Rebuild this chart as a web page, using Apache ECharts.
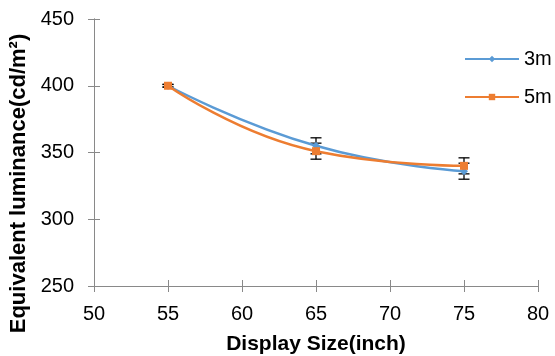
<!DOCTYPE html>
<html><head><meta charset="utf-8">
<script src="https://cdn.jsdelivr.net/npm/echarts@6/dist/echarts.min.js"></script>
<style>html,body{margin:0;padding:0;background:#fff}#c{width:555px;height:356px}</style>
</head><body><div id="c"></div>
<script>
const sizes = [55, 65, 75];
const lum3m = [400, 355, 336];
const lum5m = [400, 351, 340];
const err3m = [1, 6, 6];
const err5m = [1, 6, 6];
const xTicks = [50, 55, 60, 65, 70, 75, 80];
const yTicks = [250, 300, 350, 400, 450];

const blue = '#5B9BD5', orange = '#ED7D31';
const font = 'Liberation Sans, Arial, sans-serif';

function errData(vals, errs) {
  return sizes.map((s, i) => [s, vals[i] - errs[i], vals[i] + errs[i]]);
}
function errRender(params, api) {
  const x = api.value(0);
  const lo = api.coord([x, api.value(1)]);
  const hi = api.coord([x, api.value(2)]);
  const w = 5.5;
  const st = { stroke: '#000', lineWidth: 1.3 };
  return { type: 'group', children: [
    { type: 'line', shape: { x1: lo[0], y1: lo[1], x2: hi[0], y2: hi[1] }, style: st },
    { type: 'line', shape: { x1: lo[0] - w, y1: lo[1], x2: lo[0] + w, y2: lo[1] }, style: st },
    { type: 'line', shape: { x1: hi[0] - w, y1: hi[1], x2: hi[0] + w, y2: hi[1] }, style: st }
  ]};
}
const axisLine = { lineStyle: { color: '#898989', width: 1 } };
const chart = echarts.init(document.getElementById('c'));
chart.setOption({
  animation: false,
  textStyle: { fontFamily: font },
  grid: { left: 94, right: 17, top: 19, bottom: 70, outerBoundsMode: 'none', containLabel: false },
  legend: {
    orient: 'vertical', left: 459, top: 44, itemGap: 18, itemWidth: 54, itemHeight: 8,
    textStyle: { fontSize: 20, color: '#000', fontFamily: font },
    data: ['3m', '5m']
  },
  xAxis: [{
    type: 'value', min: xTicks[0], max: xTicks[xTicks.length - 1], interval: 5,
    name: 'Display Size(inch)', nameLocation: 'middle', nameGap: 48,
    nameTextStyle: { fontSize: 21, fontWeight: 'bold', color: '#000', fontFamily: font },
    axisLine: axisLine, axisTick: { show: true, length: 6, lineStyle: { color: '#898989' } },
    axisLabel: { fontSize: 20, color: '#000', margin: 18 }, splitLine: { show: false }
  }, {
    type: 'value', min: xTicks[0], max: xTicks[xTicks.length - 1], interval: 5, position: 'bottom',
    axisLine: axisLine, axisTick: { show: true, inside: true, length: 6, lineStyle: { color: '#898989' } },
    axisLabel: { show: false }, splitLine: { show: false }
  }],
  yAxis: [{
    type: 'value', min: yTicks[0], max: yTicks[yTicks.length - 1], interval: 50,
    name: 'Equivalent luminance(cd/m²)', nameLocation: 'middle', nameGap: 62,
    nameTextStyle: { fontSize: 22, fontWeight: 'bold', color: '#000', fontFamily: font, padding: [0, 62, 0, 0] },
    axisLine: { show: true, lineStyle: { color: '#898989' } },
    axisTick: { show: true, length: 6, lineStyle: { color: '#898989' } },
    axisLabel: { fontSize: 20, color: '#000', margin: 20 }, splitLine: { show: false }
  }, {
    type: 'value', min: yTicks[0], max: yTicks[yTicks.length - 1], interval: 50, position: 'left',
    axisLine: { show: true, lineStyle: { color: '#898989' } },
    axisTick: { show: true, inside: true, length: 6, lineStyle: { color: '#898989' } },
    axisLabel: { show: false }, splitLine: { show: false }
  }],
  series: [
    { type: 'custom', renderItem: errRender, data: errData(lum3m, err3m), z: 1, silent: true },
    { type: 'custom', renderItem: errRender, data: errData(lum5m, err5m), z: 1, silent: true },
    { name: '3m', type: 'line', smooth: true, data: sizes.map((s, i) => [s, lum3m[i]]),
      symbol: 'diamond', symbolSize: 8, itemStyle: { color: blue }, lineStyle: { color: blue, width: 2.5 }, z: 3 },
    { name: '5m', type: 'line', smooth: true, data: sizes.map((s, i) => [s, lum5m[i]]),
      symbol: 'rect', symbolSize: 8, itemStyle: { color: orange }, lineStyle: { color: orange, width: 2.5 }, z: 4 }
  ]
});
</script></body></html>
